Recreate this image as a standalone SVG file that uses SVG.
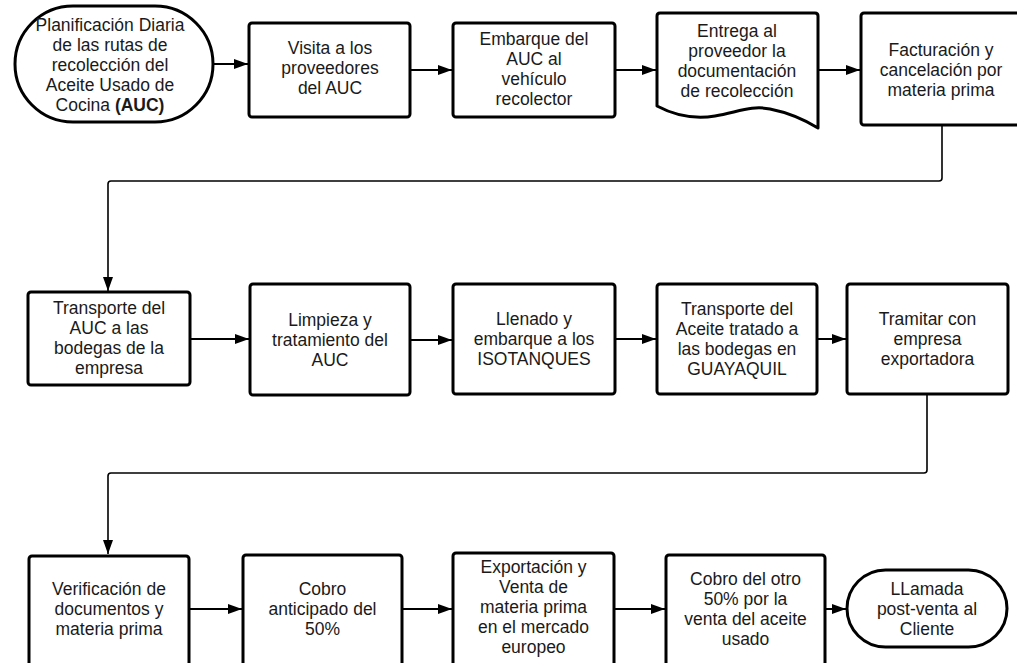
<svg xmlns="http://www.w3.org/2000/svg" width="1017" height="663" viewBox="0 0 1017 663">
<style>
.box{fill:#fff;stroke:#000;stroke-width:3;stroke-linejoin:round}
.lbl{font-family:"Liberation Sans",Arial,sans-serif;font-size:17.5px;fill:#1a1a1a;text-anchor:middle}
.con{fill:none;stroke:#000;stroke-width:2;stroke-linejoin:round}
.conl{fill:none;stroke:#000;stroke-width:1.6;stroke-linejoin:round}
</style>
<defs>
<marker id="arr" markerUnits="userSpaceOnUse" markerWidth="15" markerHeight="11" refX="14" refY="5" orient="auto">
<path d="M0,0 L14,5 L0,10 z" fill="#000"/>
</marker>
</defs>
<rect width="1017" height="663" fill="#fff"/>
<g id="connectors">
<line class="con" x1="214" y1="64" x2="248" y2="64" marker-end="url(#arr)"/>
<line class="con" x1="411" y1="70" x2="452" y2="70" marker-end="url(#arr)"/>
<line class="con" x1="616" y1="70" x2="656" y2="70" marker-end="url(#arr)"/>
<line class="con" x1="819" y1="70" x2="860" y2="70" marker-end="url(#arr)"/>
<path class="conl" d="M942,126 V178 Q942,181 939,181 H111 Q108,181 108,184 V291" marker-end="url(#arr)"/>
<line class="con" x1="191" y1="339" x2="249" y2="339" marker-end="url(#arr)"/>
<line class="con" x1="411" y1="340" x2="452" y2="340" marker-end="url(#arr)"/>
<line class="con" x1="616" y1="339" x2="656" y2="339" marker-end="url(#arr)"/>
<line class="con" x1="818" y1="339" x2="846" y2="339" marker-end="url(#arr)"/>
<path class="conl" d="M927,395 V470 Q927,473 924,473 H111 Q108,473 108,476 V554" marker-end="url(#arr)"/>
<line class="con" x1="190" y1="609" x2="242" y2="609" marker-end="url(#arr)"/>
<line class="con" x1="403" y1="609" x2="452" y2="609" marker-end="url(#arr)"/>
<line class="con" x1="615" y1="609" x2="665" y2="609" marker-end="url(#arr)"/>
<line class="con" x1="826" y1="609" x2="846" y2="609" marker-end="url(#arr)"/>
</g>
<g id="n1">
<rect class="box" x="15" y="6" width="198" height="116" rx="58" ry="58"/>
<text class="lbl"><tspan x="110" y="31">Planificación Diaria</tspan><tspan x="110" y="51">de las rutas de</tspan><tspan x="110" y="71">recolección del</tspan><tspan x="110" y="91">Aceite Usado de</tspan><tspan x="110" y="111">Cocina <tspan font-weight="bold">(AUC)</tspan></tspan></text>
</g>
<g id="n2">
<rect class="box" x="249" y="23" width="161" height="94" rx="3"/>
<text class="lbl"><tspan x="330" y="54">Visita a los</tspan><tspan x="330" y="74">proveedores</tspan><tspan x="330" y="94">del AUC</tspan></text>
</g>
<g id="n3">
<rect class="box" x="453" y="23" width="162" height="94" rx="3"/>
<text class="lbl"><tspan x="534" y="45">Embarque del</tspan><tspan x="534" y="65">AUC al</tspan><tspan x="534" y="85">vehículo</tspan><tspan x="534" y="105">recolector</tspan></text>
</g>
<g id="n4">
<path class="box" d="M660,13 H815 Q818,13 818,16 V128 C805,120 790,113 770,109 C752,105 738,112 715,116 C690,120 672,114 657,106 V16 Q657,13 660,13 Z"/>
<text class="lbl"><tspan x="737" y="37">Entrega al</tspan><tspan x="737" y="57">proveedor la</tspan><tspan x="737" y="77">documentación</tspan><tspan x="737" y="97">de recolección</tspan></text>
</g>
<g id="n5">
<rect class="box" x="861" y="13" width="162" height="112" rx="3"/>
<text class="lbl"><tspan x="941" y="56">Facturación y</tspan><tspan x="941" y="76">cancelación por</tspan><tspan x="941" y="96">materia prima</tspan></text>
</g>
<g id="n6">
<rect class="box" x="28" y="292" width="162" height="93" rx="3"/>
<text class="lbl"><tspan x="109" y="314">Transporte del</tspan><tspan x="109" y="334">AUC a las</tspan><tspan x="109" y="354">bodegas de la</tspan><tspan x="109" y="374">empresa</tspan></text>
</g>
<g id="n7">
<rect class="box" x="250" y="284" width="160" height="111" rx="3"/>
<text class="lbl"><tspan x="330" y="325.5">Limpieza y</tspan><tspan x="330" y="345.5">tratamiento del</tspan><tspan x="330" y="365.5">AUC</tspan></text>
</g>
<g id="n8">
<rect class="box" x="453" y="284" width="162" height="110" rx="3"/>
<text class="lbl"><tspan x="534" y="325">Llenado y</tspan><tspan x="534" y="345">embarque a los</tspan><tspan x="534" y="365">ISOTANQUES</tspan></text>
</g>
<g id="n9">
<rect class="box" x="657" y="284" width="160" height="110" rx="3"/>
<text class="lbl"><tspan x="737" y="315">Transporte del</tspan><tspan x="737" y="335">Aceite tratado a</tspan><tspan x="737" y="355">las bodegas en</tspan><tspan x="737" y="375">GUAYAQUIL</tspan></text>
</g>
<g id="n10">
<rect class="box" x="847" y="284" width="161" height="110" rx="3"/>
<text class="lbl"><tspan x="927.5" y="325">Tramitar con</tspan><tspan x="927.5" y="345">empresa</tspan><tspan x="927.5" y="365">exportadora</tspan></text>
</g>
<g id="n11">
<rect class="box" x="29" y="556" width="160" height="112" rx="3"/>
<text class="lbl"><tspan x="109" y="595">Verificación de</tspan><tspan x="109" y="615">documentos y</tspan><tspan x="109" y="635">materia prima</tspan></text>
</g>
<g id="n12">
<rect class="box" x="243" y="555" width="159" height="113" rx="3"/>
<text class="lbl"><tspan x="322.5" y="595">Cobro</tspan><tspan x="322.5" y="615">anticipado del</tspan><tspan x="322.5" y="635">50%</tspan></text>
</g>
<g id="n13">
<rect class="box" x="453" y="553" width="161" height="115" rx="3"/>
<text class="lbl"><tspan x="533.5" y="573">Exportación y</tspan><tspan x="533.5" y="593">Venta de</tspan><tspan x="533.5" y="613">materia prima</tspan><tspan x="533.5" y="633">en el mercado</tspan><tspan x="533.5" y="653">europeo</tspan></text>
</g>
<g id="n14">
<rect class="box" x="666" y="555" width="159" height="113" rx="3"/>
<text class="lbl"><tspan x="745.5" y="585">Cobro del otro</tspan><tspan x="745.5" y="605">50% por la</tspan><tspan x="745.5" y="625">venta del aceite</tspan><tspan x="745.5" y="645">usado</tspan></text>
</g>
<g id="n15">
<rect class="box" x="847" y="570" width="160" height="77" rx="38.5" ry="38.5"/>
<text class="lbl"><tspan x="927" y="595">LLamada</tspan><tspan x="927" y="615">post-venta al</tspan><tspan x="927" y="635">Cliente</tspan></text>
</g>
</svg>
